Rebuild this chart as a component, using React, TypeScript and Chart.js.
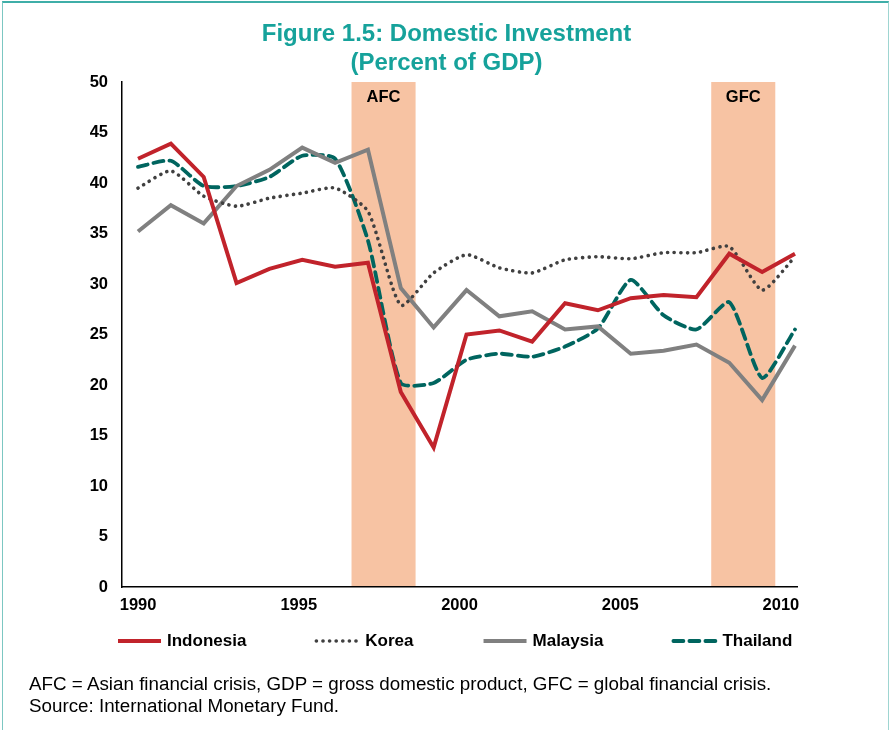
import React, { useEffect, useRef } from "react";
import { Chart, registerables } from "chart.js";

Chart.register(...registerables);

const years = [1990, 1991, 1992, 1993, 1994, 1995, 1996, 1997, 1998, 1999, 2000, 2001, 2002, 2003, 2004, 2005, 2006, 2007, 2008, 2009, 2010];
const indonesia = [42.4, 43.9, 40.6, 30.1, 31.5, 32.4, 31.7, 32.1, 19.3, 13.8, 25.0, 25.4, 24.3, 28.1, 27.4, 28.6, 28.9, 28.7, 33.0, 31.2, 33.0];
const korea = [39.5, 41.2, 38.7, 37.7, 38.5, 39.0, 39.5, 37.2, 27.9, 31.1, 32.9, 31.6, 31.1, 32.4, 32.7, 32.5, 33.1, 33.1, 33.7, 29.4, 32.7];
const malaysia = [35.2, 37.8, 36.0, 39.7, 41.3, 43.5, 42.0, 43.3, 29.6, 25.7, 29.4, 26.8, 27.3, 25.5, 25.8, 23.1, 23.4, 24.0, 22.2, 18.5, 23.9];
const thailand = [41.6, 42.2, 39.7, 39.7, 40.6, 42.7, 42.4, 34.3, 20.2, 20.2, 22.5, 23.1, 22.8, 23.8, 25.6, 30.4, 26.9, 25.5, 28.2, 20.7, 25.5];

const seriesNames = ["Indonesia", "Korea", "Malaysia", "Thailand"];
const tickLabels = ["1990", "1995", "2000", "2005", "2010"];
const tickYears = [1990, 1995, 2000, 2005, 2010];
const crisisLabels = ["AFC", "GFC"];
const crisisStart = [1996.5, 2007.45];
const crisisEnd = [1998.45, 2009.4];

const FONT = "'Liberation Sans', Arial, Helvetica, sans-serif";
const X_MIN = 1989.513;
const X_MAX = 2010.061;

const crisisPlugin = {
  id: "crisis",
  beforeDraw(chart: any) {
    const { ctx, chartArea, scales } = chart;
    ctx.save();
    crisisLabels.forEach((lab, i) => {
      const x1 = scales.x.getPixelForValue(crisisStart[i]);
      const x2 = scales.x.getPixelForValue(crisisEnd[i]);
      ctx.fillStyle = "#F7C3A3";
      ctx.fillRect(x1, chartArea.top, x2 - x1, chartArea.bottom - chartArea.top);
      ctx.fillStyle = "#000";
      ctx.font = `bold 16.5px ${FONT}`;
      ctx.textAlign = "center";
      ctx.textBaseline = "middle";
      ctx.fillText(lab, (x1 + x2) / 2, chartArea.top + 15);
    });
    ctx.restore();
  },
};

const legendPlugin = {
  id: "customLegend",
  afterDraw(chart: any) {
    const { ctx, chartArea } = chart;
    const y = chartArea.bottom + 54;
    let x = chartArea.left - 4;
    ctx.save();
    ctx.font = `bold 17px ${FONT}`;
    chart.data.datasets.forEach((ds: any) => {
      ctx.save();
      ctx.strokeStyle = ds.borderColor;
      ctx.lineWidth = ds.borderWidth;
      ctx.lineCap = ds.borderCapStyle || "butt";
      ctx.setLineDash(ds.borderDash || []);
      ctx.beginPath();
      ctx.moveTo(x, y);
      ctx.lineTo(x + 43, y);
      ctx.stroke();
      ctx.restore();
      x += 49;
      ctx.fillStyle = "#000";
      ctx.textAlign = "left";
      ctx.textBaseline = "middle";
      ctx.fillText(ds.label, x, y);
      x += ctx.measureText(ds.label).width + 70;
    });
    ctx.restore();
  },
};

export default function App() {
  const ref = useRef<HTMLCanvasElement>(null);
  useEffect(() => {
    if (!ref.current) return;
    const mk = (arr: number[]) => years.map((yr, i) => ({ x: yr, y: arr[i] }));
    const chart = new Chart(ref.current, {
      type: "line",
      data: {
        datasets: [
          { label: seriesNames[0], data: mk(indonesia), borderColor: "#C1232B", borderWidth: 4, pointRadius: 0, tension: 0, borderCapStyle: "butt" },
          { label: seriesNames[1], data: mk(korea), borderColor: "#404040", borderWidth: 3.6, pointRadius: 0, tension: 0.2, borderDash: [0.1, 6.5], borderCapStyle: "round" },
          { label: seriesNames[2], data: mk(malaysia), borderColor: "#808080", borderWidth: 4, pointRadius: 0, tension: 0, borderCapStyle: "butt" },
          { label: seriesNames[3], data: mk(thailand), borderColor: "#00655F", borderWidth: 3.8, pointRadius: 0, tension: 0.2, borderDash: [10, 6], borderCapStyle: "round" },
        ] as any,
      },
      options: {
        animation: false,
        responsive: false,
        maintainAspectRatio: false,
        layout: { padding: { top: 82, left: 0, right: 93, bottom: 103 } },
        plugins: { legend: { display: false }, title: { display: false }, tooltip: { enabled: false } },
        scales: {
          x: {
            type: "linear",
            min: X_MIN,
            max: X_MAX,
            grid: { display: false, drawTicks: false },
            border: { display: true, color: "#000", width: 1.5 },
            afterFit(scale: any) { scale.height = 40; },
            afterBuildTicks(scale: any) {
              scale.ticks = tickYears.map((yr) => ({ value: X_MIN + (yr - years[0] + 0.5) * (X_MAX - X_MIN) / years.length }));
            },
            ticks: {
              autoSkip: false,
              maxRotation: 0,
              padding: 9,
              color: "#000",
              font: { family: FONT, size: 16.5, weight: "bold" },
              callback: (_v: any, i: number) => tickLabels[i],
            },
          },
          y: {
            min: 0,
            max: 50,
            grid: { display: false, drawTicks: false },
            border: { display: true, color: "#000", width: 1.5 },
            afterFit(scale: any) { scale.width = 122; },
            ticks: {
              stepSize: 5,
              padding: 14,
              color: "#000",
              font: { family: FONT, size: 16.5, weight: "bold" },
            },
          },
        },
      } as any,
      plugins: [crisisPlugin, legendPlugin],
    });
    return () => chart.destroy();
  }, []);

  return (
    <div style={{ position: "fixed", left: 0, top: 0, width: 890, height: 730, background: "#fff", overflow: "hidden", fontFamily: FONT }}>
      <div style={{ position: "absolute", left: 2, top: 1, width: 887, height: 760, borderTop: "2px solid #3FAEA8", borderLeft: "1.5px solid #7CC7C2", borderRight: "1.5px solid #9ED5D1", boxSizing: "border-box" }} />
      <canvas ref={ref} width={890} height={730} style={{ position: "absolute", left: 0, top: 0, width: 890, height: 730 }} />
      <div style={{ position: "absolute", left: 0, top: 18, width: 893, textAlign: "center", color: "#16A29B", fontWeight: "bold", fontSize: 24, lineHeight: "29px" }}>
        Figure 1.5: Domestic Investment<br />(Percent of GDP)
      </div>
      <div style={{ position: "absolute", left: 29, top: 673, color: "#000", fontSize: 18.8, lineHeight: "22px", whiteSpace: "nowrap" }}>
        AFC = Asian financial crisis, GDP = gross domestic product, GFC = global financial crisis.<br />Source: International Monetary Fund.
      </div>
    </div>
  );
}
